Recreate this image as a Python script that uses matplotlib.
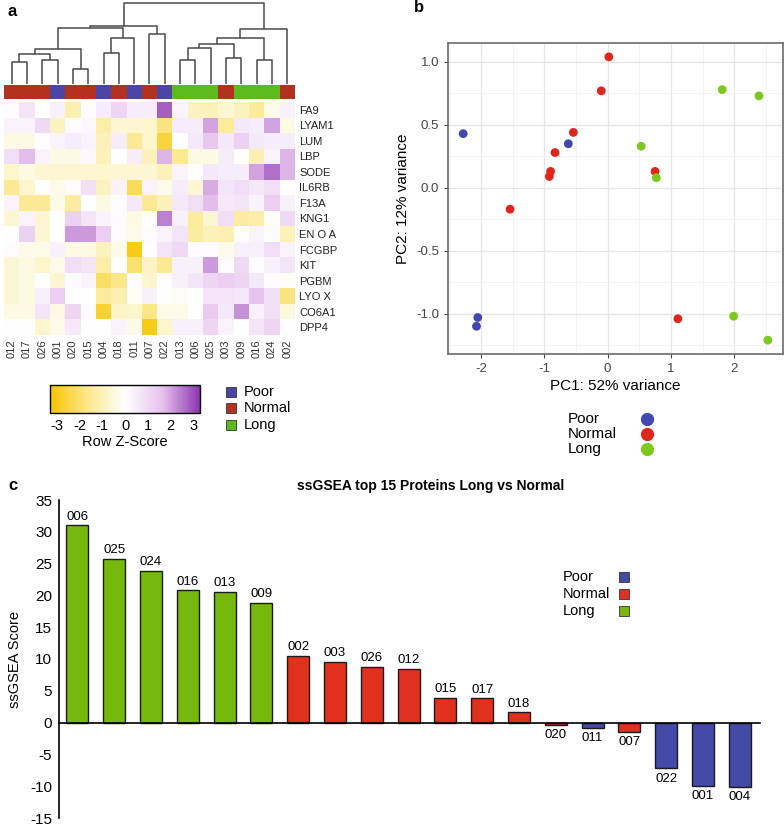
import numpy as np
import matplotlib
matplotlib.use("Agg")
import matplotlib.pyplot as plt
from matplotlib.colors import LinearSegmentedColormap, Normalize
from matplotlib.cm import ScalarMappable
from matplotlib.lines import Line2D
from matplotlib.patches import Rectangle

plt.rcParams['font.family'] = ['Liberation Sans', 'DejaVu Sans']
plt.rcParams['axes.unicode_minus'] = False

W, H = 784, 826

# ---- panel a: heatmap ----
samples = ['012', '017', '026', '001', '020', '015', '004', '018', '011', '007',
           '022', '013', '006', '025', '003', '009', '016', '024', '002']
sample_group = ['Normal', 'Normal', 'Normal', 'Poor', 'Normal', 'Normal', 'Poor', 'Normal', 'Poor', 'Normal',
                'Poor', 'Long', 'Long', 'Long', 'Normal', 'Long', 'Long', 'Long', 'Normal']
proteins = ['FA9', 'LYAM1', 'LUM', 'LBP', 'SODE', 'IL6RB', 'F13A', 'KNG1', 'EN O A',
            'FCGBP', 'KIT', 'PGBM', 'LYO X', 'CO6A1', 'DPP4']
zscores = [
    [0.1, 0.7, 0.0, 0.4, -1.1, 0.1, 0.5, 1.1, 0.5, 0.5, 2.8, 0.3, -0.9, -1.0, -0.6, -0.9, -1.4, -0.3, 0.4],
    [0.3, 0.3, 1.0, -0.9, 0.1, 0.2, -1.2, -0.6, -0.6, -0.7, -1.8, 0.5, 0.5, 2.0, -1.4, 0.6, 0.5, 2.0, -0.4],
    [-0.4, -0.4, 0.0, 0.3, 0.5, 0.3, -1.0, 0.5, -1.5, -0.7, -2.6, 0.0, 0.6, 1.5, 0.6, 1.2, 0.6, 0.5, 0.5],
    [0.9, 1.7, 0.3, -0.4, -0.4, 0.2, -1.0, 0.0, 0.5, -1.0, 1.8, -1.5, -0.4, -0.4, 0.5, 0.0, -1.1, 0.3, 1.8],
    [-0.7, -0.4, -0.6, -0.6, -0.6, -0.6, -0.7, -0.6, -0.6, -0.6, -1.0, 0.3, 0.0, 0.6, 0.5, 0.5, 2.0, 2.6, 1.8],
    [-1.5, -0.7, 0.0, -0.3, 0.1, 0.8, -0.9, 0.3, -2.2, 0.3, -0.3, 0.5, -0.6, 1.9, 0.7, 0.9, 0.6, 0.9, 0.0],
    [0.3, -1.5, -1.5, -0.3, -1.3, 0.0, -0.4, 0.1, 0.6, -1.5, -1.0, 0.6, 0.9, 1.7, 0.6, 0.7, 0.3, 1.3, 0.4],
    [-0.6, 0.3, -0.6, 0.0, 1.2, 0.7, 0.3, 0.1, -0.4, 0.0, 2.4, 0.4, -1.4, -0.6, 0.9, -1.3, -1.2, -0.1, 1.0],
    [0.0, 1.2, -0.6, 0.0, 2.1, 2.1, 1.3, 0.1, -0.3, 0.1, 0.3, 0.7, -1.3, -1.0, -1.1, 0.0, 0.3, 0.1, -1.0],
    [0.1, -0.3, -0.3, 0.4, -0.4, -0.4, -0.9, -0.3, -3.0, 0.0, 0.7, 1.0, 0.1, 0.1, -0.3, 0.4, 0.4, 0.9, 0.3],
    [-0.6, -0.4, -0.7, -0.3, 0.9, 0.7, -1.2, 0.0, -2.0, -0.8, -1.5, 0.4, 0.4, 2.1, 0.1, 1.0, 0.1, 0.4, 0.7],
    [-0.6, -0.4, 0.0, -0.6, 0.1, 0.3, -2.1, -1.7, 0.1, -0.7, 0.0, 0.4, 0.7, 1.1, 1.3, 1.1, 0.6, 0.1, -0.1],
    [-0.6, -0.4, 0.4, 1.3, 0.0, 0.0, -1.4, -1.1, -0.1, 0.4, 0.0, -0.1, 0.0, 0.7, 0.7, 0.6, 1.6, 0.9, -1.8],
    [-0.4, -0.4, 0.7, -0.4, 1.1, 0.1, -2.7, -0.8, -0.7, -1.7, -0.3, -0.3, 0.0, 1.4, 0.6, 2.2, 0.4, 0.8, -0.5],
    [0.0, 0.0, -0.7, -0.3, 0.6, 0.0, 0.0, 0.3, -0.3, -3.0, -0.7, 0.4, 0.4, 1.1, 0.3, 0.0, 0.7, 1.1, 0.0],
]
# column dendrogram, linkage style: node >= 19 is the result of merge (node - 19)
merge_left = [0, 2, 19, 4, 21, 6, 24, 23, 9, 26, 11, 29, 14, 30, 16, 32, 34, 28]
merge_right = [1, 3, 20, 5, 22, 7, 8, 25, 10, 27, 12, 13, 15, 31, 17, 33, 18, 35]
merge_height = [22, 24, 30, 15, 35, 31, 45, 55, 49, 57, 24, 36, 26, 40, 24, 45, 54, 80]

# ---- panel b: PCA ----
pca_group = ['Poor', 'Normal', 'Normal', 'Normal', 'Poor', 'Normal', 'Normal', 'Normal', 'Long', 'Normal',
             'Long', 'Long', 'Long', 'Normal', 'Poor', 'Poor', 'Normal', 'Long', 'Long']
pc1 = [-2.28, 0.02, -0.10, -0.54, -0.62, -0.83, -0.90, -0.92, 0.53, 0.75,
       0.77, 1.81, 2.39, -1.54, -2.05, -2.07, 1.11, 1.99, 2.53]
pc2 = [0.43, 1.04, 0.77, 0.44, 0.35, 0.28, 0.13, 0.09, 0.33, 0.13,
       0.08, 0.78, 0.73, -0.17, -1.03, -1.10, -1.04, -1.02, -1.21]

# ---- panel c: ssGSEA ----
bar_ids = ['006', '025', '024', '016', '013', '009', '002', '003', '026', '012',
           '015', '017', '018', '020', '011', '007', '022', '001', '004']
bar_group = ['Long', 'Long', 'Long', 'Long', 'Long', 'Long', 'Normal', 'Normal', 'Normal', 'Normal',
             'Normal', 'Normal', 'Normal', 'Normal', 'Poor', 'Normal', 'Poor', 'Poor', 'Poor']
bar_scores = [31.0, 25.7, 23.9, 20.8, 20.6, 18.8, 10.5, 9.6, 8.8, 8.4,
              3.9, 3.8, 1.6, -0.4, -0.8, -1.4, -7.2, -10.0, -10.1]

groups = ['Poor', 'Normal', 'Long']
heat_colors = {'Poor': '#4B46A6', 'Normal': '#B3321F', 'Long': '#5CBA1C'}
pca_colors = {'Poor': '#3F48B3', 'Normal': '#E0261B', 'Long': '#7CC81E'}
bar_colors = {'Poor': '#4549A8', 'Normal': '#E0301E', 'Long': '#77B80F'}


def px_axes(fig, x0, y0, x1, y1):
    # axes from pixel box (top-left origin)
    return fig.add_axes([x0 / W, 1 - y1 / H, (x1 - x0) / W, (y1 - y0) / H])


def fx(x):
    return x / W


def fy(y):
    return 1 - y / H


fig = plt.figure(figsize=(W / 100, H / 100), dpi=100)
fig.patch.set_facecolor('white')

# ---------------- panel a ----------------
n = len(samples)
ax_d = px_axes(fig, 4, 2, 295, 84)
pos = {i: i + 0.5 for i in range(n)}
hgt = {i: 0.0 for i in range(n)}
for k, (a, b, h) in enumerate(zip(merge_left, merge_right, merge_height)):
    ax_d.plot([pos[a], pos[a], pos[b], pos[b]], [hgt[a], h, h, hgt[b]],
              color='#4a4a4a', lw=1.1, solid_capstyle='butt')
    pos[n + k] = (pos[a] + pos[b]) / 2
    hgt[n + k] = h
ax_d.set_xlim(0, n)
ax_d.set_ylim(0, 81)
ax_d.axis('off')

ax_c = px_axes(fig, 4, 85, 295, 99)
ax_c.bar(np.arange(n) + 0.5, 1, width=1.0, color=[heat_colors[g] for g in sample_group])
ax_c.set_xlim(0, n)
ax_c.set_ylim(0, 1)
ax_c.axis('off')

heat_cmap = LinearSegmentedColormap.from_list('yw_purple', ['#F8C500', '#FBE88A', '#FFFFFF', '#E6C2EE', '#8A35AE'])
heat_norm = Normalize(-3.3, 3.3)
ax_h = px_axes(fig, 4, 102, 295, 335)
ax_h.imshow(np.array(zscores), cmap=heat_cmap, norm=heat_norm, aspect='auto', interpolation='nearest')
ax_h.set_xticks(np.arange(n))
ax_h.set_xticklabels(samples, rotation=90, fontsize=8, color='#333333')
ax_h.set_yticks(np.arange(len(proteins)))
ax_h.set_yticklabels(proteins, fontsize=8, color='#222222')
ax_h.yaxis.tick_right()
ax_h.tick_params(length=0, pad=3)
for s in ax_h.spines.values():
    s.set_visible(False)

cax = px_axes(fig, 50, 385, 200, 413)
cb = fig.colorbar(ScalarMappable(norm=heat_norm, cmap=heat_cmap), cax=cax,
                  orientation='horizontal', ticks=[-3, -2, -1, 0, 1, 2, 3])
cb.set_ticklabels(['-3', '-2', '-1', '0', '1', '2', '3'])
cb.outline.set_linewidth(1.0)
cax.tick_params(length=0, pad=4, labelsize=10.5)
cax.set_xlabel('Row Z-Score', fontsize=10.5, labelpad=2)

for i, g in enumerate(groups):
    y = 392 + 16.5 * i
    fig.add_artist(Rectangle((fx(226), fy(y + 5)), 10 / W, 10 / H, transform=fig.transFigure,
                             facecolor=heat_colors[g], edgecolor='#333333', lw=0.6))
    fig.text(fx(244), fy(y), g, fontsize=10.5, va='center', ha='left')

fig.text(fx(8), fy(12), 'a', fontsize=12, fontweight='bold', va='center')

# ---------------- panel b ----------------
ax_p = px_axes(fig, 448, 43, 783, 354)
for g in groups:
    idx = [i for i, gg in enumerate(pca_group) if gg == g]
    ax_p.scatter([pc1[i] for i in idx], [pc2[i] for i in idx], s=40,
                 color=pca_colors[g], edgecolors='none', zorder=3)
ax_p.set_xlim(-2.52, 2.77)
ax_p.set_ylim(-1.32, 1.15)
ax_p.set_xticks([-2, -1, 0, 1, 2])
ax_p.set_yticks([-1.0, -0.5, 0.0, 0.5, 1.0])
ax_p.set_yticklabels(['-1.0', '-0.5', '0.0', '0.5', '1.0'])
ax_p.set_xticks(np.arange(-2.5, 3.0, 1.0), minor=True)
ax_p.set_yticks(np.arange(-1.25, 1.2, 0.5), minor=True)
ax_p.grid(True, which='major', color='#E6E6E6', lw=0.9)
ax_p.grid(True, which='minor', color='#F1F1F1', lw=0.6)
ax_p.set_axisbelow(True)
ax_p.tick_params(which='major', length=3, color='#444444', labelsize=9.5, labelcolor='#444444')
ax_p.tick_params(which='minor', length=0)
for s in ax_p.spines.values():
    s.set_color('#6b6b6b')
    s.set_linewidth(1.2)
ax_p.set_xlabel('PC1: 52% variance', fontsize=11, labelpad=3)
ax_p.set_ylabel('PC2: 12% variance', fontsize=11, labelpad=4)

for i, g in enumerate(groups):
    y = 419 + 15 * i
    fig.text(fx(568), fy(y), g, fontsize=11, va='center', ha='left')
    fig.add_artist(Line2D([fx(647)], [fy(y)], marker='o', markersize=8.5, linestyle='none',
                          color=pca_colors[g], transform=fig.transFigure))

fig.text(fx(414), fy(8), 'b', fontsize=12, fontweight='bold', va='center')

# ---------------- panel c ----------------
ax_b = px_axes(fig, 59, 500, 760, 818)
xs = np.arange(len(bar_ids))
ax_b.bar(xs, bar_scores, width=0.6, color=[bar_colors[g] for g in bar_group],
         edgecolor='#1a1a1a', linewidth=1.0, zorder=2)
for x, v, lab in zip(xs, bar_scores, bar_ids):
    if v >= 0:
        ax_b.annotate(lab, (x, v), xytext=(0, 2), textcoords='offset points',
                      ha='center', va='bottom', fontsize=9.5)
    else:
        ax_b.annotate(lab, (x, v), xytext=(0, -3), textcoords='offset points',
                      ha='center', va='top', fontsize=9.5)
ax_b.set_xlim(-0.5, 18.55)
ax_b.set_ylim(-15, 35)
ax_b.set_yticks(np.arange(-15, 36, 5))
ax_b.set_xticks([])
ax_b.spines['top'].set_visible(False)
ax_b.spines['right'].set_visible(False)
ax_b.spines['bottom'].set_position(('data', 0))
ax_b.spines['bottom'].set_linewidth(1.2)
ax_b.spines['left'].set_linewidth(1.2)
ax_b.tick_params(axis='y', length=0, pad=5, labelsize=11)
ax_b.set_ylabel('ssGSEA Score', fontsize=10.5, labelpad=6)

for i, g in enumerate(groups):
    y = 577 + 17 * i
    fig.text(fx(563), fy(y), g, fontsize=10.5, va='center', ha='left')
    fig.add_artist(Rectangle((fx(619), fy(y + 5)), 10 / W, 10 / H, transform=fig.transFigure,
                             facecolor=bar_colors[g], edgecolor='#333333', lw=0.6))

fig.text(fx(431), fy(486), 'ssGSEA top 15 Proteins Long vs Normal', fontsize=10,
         fontweight='bold', ha='center', va='center')
fig.text(fx(8), fy(486), 'c', fontsize=12, fontweight='bold', va='center')

fig.savefig('out.png', dpi=100)
